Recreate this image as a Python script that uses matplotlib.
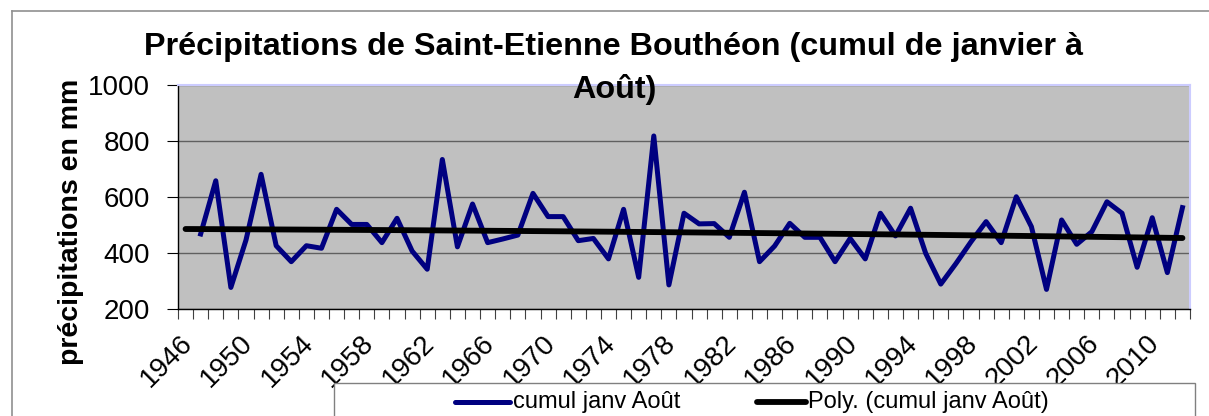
import numpy as np
import matplotlib
matplotlib.use("Agg")
import matplotlib.pyplot as plt
from matplotlib.lines import Line2D
from matplotlib.patches import Rectangle
import matplotlib.transforms as mtransforms

# cumul janvier -> août, Saint-Etienne Bouthéon (mm)
annees = list(range(1947, 2013))
cumul = [468, 658, 277, 446, 681, 426, 369, 426, 417, 556,
         502, 502, 437, 524, 407, 342, 734, 422, 575, 437,
         450, 464, 613, 530, 530, 444, 452, 379, 556, 313,
         818, 286, 542, 504, 505, 456, 617, 369, 425, 506,
         456, 456, 369, 452, 379, 542, 461, 560, 399, 289,
         362, 440, 512, 437, 601, 494, 270, 518, 431, 476,
         583, 542, 349, 526, 330, 562]
premiere_annee = 1946
etiquettes_x = list(range(1946, 2011, 4))
graduations_y = [200, 400, 600, 800, 1000]

titre = "Précipitations de Saint-Etienne Bouthéon (cumul de janvier à\nAoût)"
label_y = "précipitations en mm"
nom_serie = "cumul janv Août"
nom_tendance = "Poly. (cumul janv Août)"

W, H = 1209, 416
plt.rcParams['font.family'] = ['Liberation Sans', 'DejaVu Sans']

fig = plt.figure(figsize=(W / 100, H / 100), dpi=100)
fig.patch.set_facecolor('white')

# helpers : pixels -> fraction de figure
def fx(px):
    return px / W

def fy(py):
    return 1 - py / H

ax = fig.add_axes([fx(178), fy(309), fx(1190) - fx(178), fy(85) - fy(309)])
ax.set_facecolor('#C0C0C0')

# serie + tendance polynomiale (ordre 2)
ax.plot(annees, cumul, color='#000080', lw=3.6, solid_joinstyle='round', zorder=3)
coef = np.polyfit(annees, cumul, 2)
xt = np.arange(premiere_annee, annees[-1] + 1)
ax.plot(xt, np.polyval(coef, xt), color='black', lw=4.2, solid_capstyle='round', zorder=4)

ax.set_xlim(premiere_annee - 0.5, annees[-1] + 0.5)
ax.set_ylim(200, 1000)

# axe y
ax.set_yticks(graduations_y)
ax.tick_params(axis='y', direction='out', length=8, width=0.8, pad=12, labelsize=20)
ax.yaxis.grid(True, color='#606060', lw=1.0)
ax.set_axisbelow(True)

# axe x : graduations entre categories, etiquettes tous les 4 ans
ax.set_xticks(np.arange(premiere_annee - 0.5, annees[-1] + 1, 1), minor=True)
ax.set_xticks(etiquettes_x)
ax.set_xticklabels([str(a) for a in etiquettes_x], rotation=45, ha='right', va='top',
                   rotation_mode='anchor', fontsize=20)
ax.tick_params(axis='x', which='major', length=0, pad=15)
ax.tick_params(axis='x', which='minor', direction='out', length=7, width=0.8, color='#404040')
decal = mtransforms.ScaledTranslation(-6 / 100, 0, fig.dpi_scale_trans)
for lab in ax.get_xticklabels():
    lab.set_transform(lab.get_transform() + decal)

for cote in ['top', 'right']:
    ax.spines[cote].set_color('#CCCCFF')
    ax.spines[cote].set_linewidth(1.5)
for cote in ['left', 'bottom']:
    ax.spines[cote].set_color('black')
    ax.spines[cote].set_linewidth(1.0)

# titre et label y
fig.text(fx(614), fy(32), titre, ha='center', va='top', fontsize=23.3,
         fontweight='bold', linespacing=1.5)
fig.text(fx(71), fy(222), label_y, rotation=90, ha='center', va='center',
         fontsize=20.5, fontweight='bold')

# cadre du graphique
fig.add_artist(Line2D([fx(11.5), fx(11.5)], [fy(11), 0], color='#909090', lw=1.2))
fig.add_artist(Line2D([fx(11.5), 1], [fy(11), fy(11)], color='#909090', lw=1.2))

# legende (coupee en bas comme dans l'original)
fig.add_artist(Rectangle((fx(334), fy(430)), fx(1195) - fx(334), fy(382.5) - fy(430),
                         transform=fig.transFigure, facecolor='white',
                         edgecolor='#808080', lw=1.0))
fig.add_artist(Line2D([fx(455), fx(510)], [fy(402), fy(402)], color='#000080', lw=3.6,
                      solid_capstyle='round'))
fig.text(fx(513), fy(402), nom_serie, ha='left', va='center', fontsize=17)
fig.add_artist(Line2D([fx(757), fx(806)], [fy(402), fy(402)], color='black', lw=4.2,
                      solid_capstyle='round'))
fig.text(fx(808), fy(402), nom_tendance, ha='left', va='center', fontsize=17)

fig.savefig('out.png', dpi=100)
